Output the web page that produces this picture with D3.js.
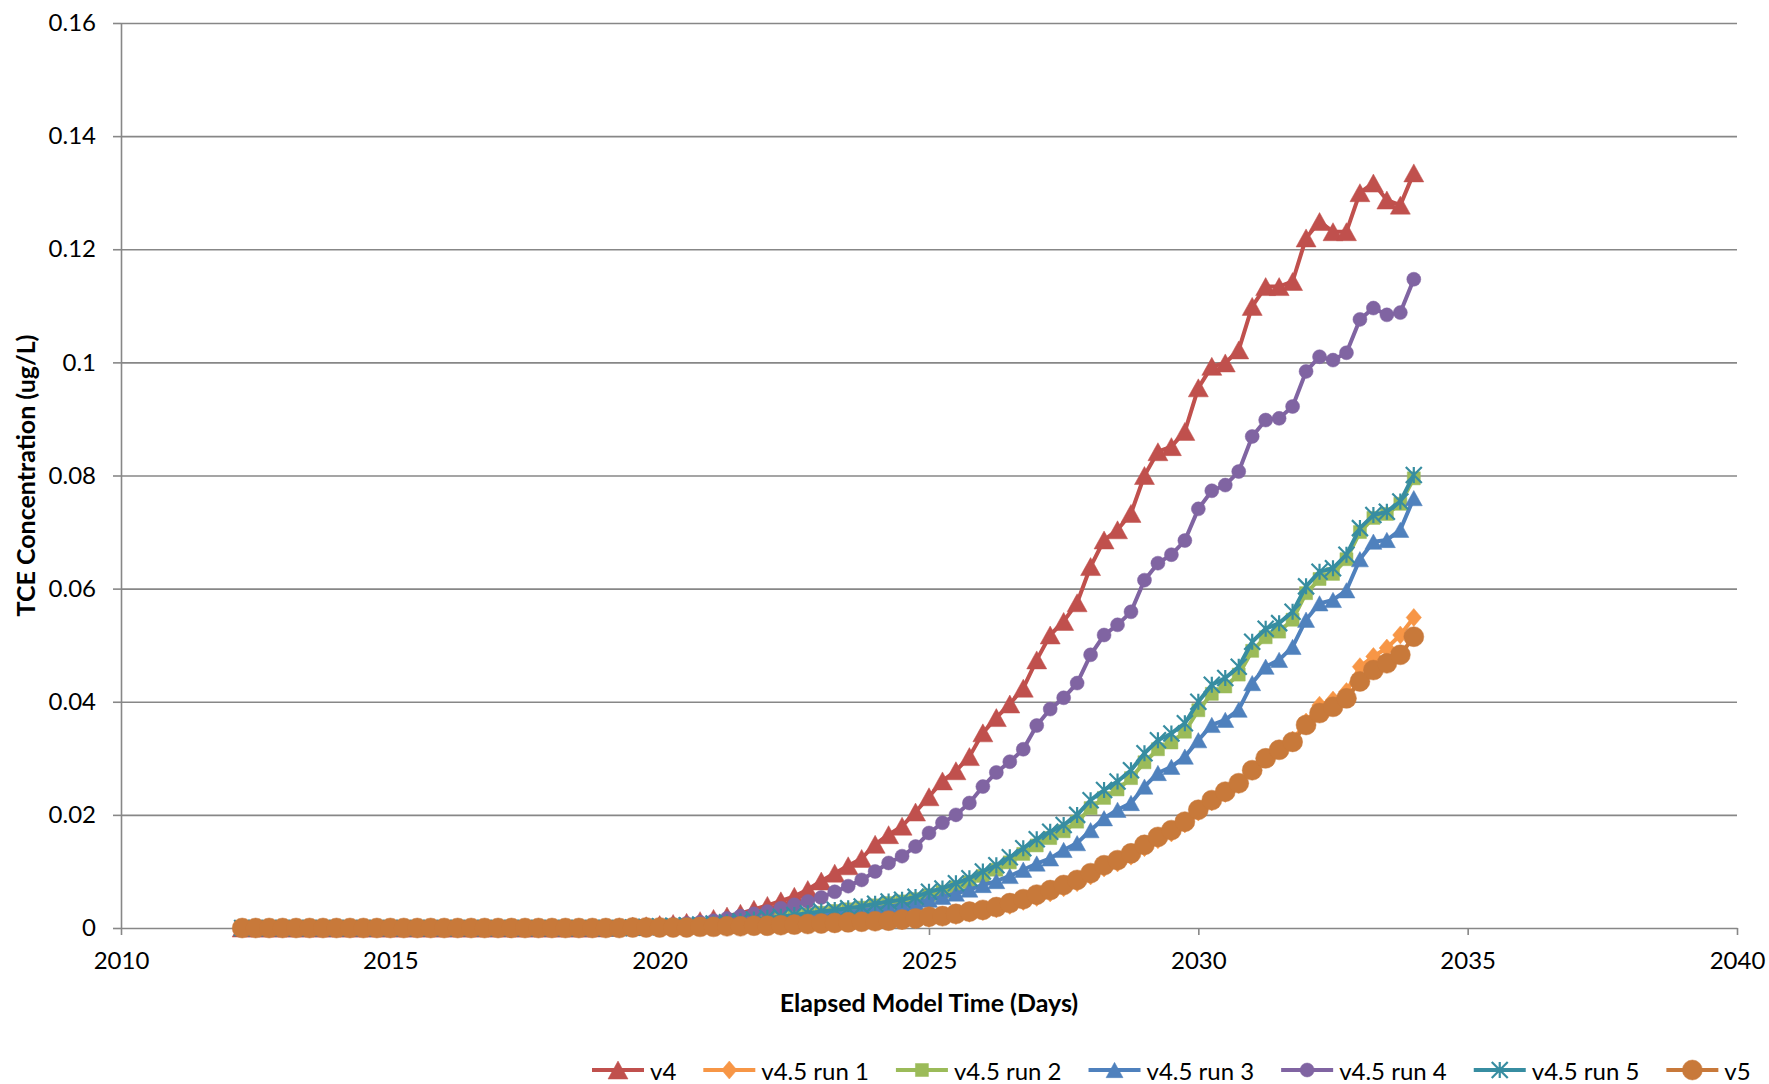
<!DOCTYPE html>
<html>
<head>
<meta charset="utf-8">
<script src="https://cdn.jsdelivr.net/npm/d3@7"></script>
<style>
  body { margin: 0; background: #fff; }
  svg { display: block; font-family: Lato, "Open Sans", sans-serif; }
</style>
</head>
<body>
<svg id="chart"></svg>
<script>
// quarterly model output times (years)
const times = [
  2012.25, 2012.5, 2012.75,
  2013, 2013.25, 2013.5, 2013.75,
  2014, 2014.25, 2014.5, 2014.75,
  2015, 2015.25, 2015.5, 2015.75,
  2016, 2016.25, 2016.5, 2016.75,
  2017, 2017.25, 2017.5, 2017.75,
  2018, 2018.25, 2018.5, 2018.75,
  2019, 2019.25, 2019.5, 2019.75,
  2020, 2020.25, 2020.5, 2020.75,
  2021, 2021.25, 2021.5, 2021.75,
  2022, 2022.25, 2022.5, 2022.75,
  2023, 2023.25, 2023.5, 2023.75,
  2024, 2024.25, 2024.5, 2024.75,
  2025, 2025.25, 2025.5, 2025.75,
  2026, 2026.25, 2026.5, 2026.75,
  2027, 2027.25, 2027.5, 2027.75,
  2028, 2028.25, 2028.5, 2028.75,
  2029, 2029.25, 2029.5, 2029.75,
  2030, 2030.25, 2030.5, 2030.75,
  2031, 2031.25, 2031.5, 2031.75,
  2032, 2032.25, 2032.5, 2032.75,
  2033, 2033.25, 2033.5, 2033.75,
  2034
]

const v4 = [
  0, 0, 0,
  0, 0, 0, 0,
  0, 0, 0, 0,
  0, 0, 0, 0,
  0, 0, 0, 0,
  0, 0, 0, 0,
  0, 0, 0, 0,
  0.0001, 0.0002, 0.0003, 0.0004,
  0.0006, 0.0008, 0.0010, 0.0013,
  0.0017, 0.0021, 0.0026, 0.0033,
  0.0040, 0.0048, 0.0056, 0.0068,
  0.0083, 0.0097, 0.0110, 0.0123,
  0.0148, 0.0165, 0.0180, 0.0205,
  0.0232, 0.0260, 0.0278, 0.0303,
  0.0345, 0.0372, 0.0396, 0.0424,
  0.0474, 0.0518, 0.0542, 0.0575,
  0.0639, 0.0686, 0.0704, 0.0733,
  0.0800, 0.0842, 0.0851, 0.0878,
  0.0955, 0.0993, 0.0999, 0.1022,
  0.1099, 0.1134, 0.1134, 0.1143,
  0.1220, 0.1249, 0.1231, 0.1231,
  0.1300, 0.1317, 0.1287, 0.1278,
  0.1335
]

const run1 = [
  0, 0, 0,
  0, 0, 0, 0,
  0, 0, 0, 0,
  0, 0, 0, 0,
  0, 0, 0, 0,
  0, 0, 0, 0,
  0, 0, 0, 0,
  0, 0, 0.0001, 0.0001,
  0.0001, 0.0001, 0.0001, 0.0002,
  0.0002, 0.0003, 0.0003, 0.0004,
  0.0004, 0.0005, 0.0005, 0.0006,
  0.0007, 0.0008, 0.0009, 0.0010,
  0.0011, 0.0012, 0.0013, 0.0015,
  0.0017, 0.0019, 0.0022, 0.0026,
  0.0029, 0.0034, 0.0040, 0.0047,
  0.0054, 0.0062, 0.0071, 0.0080,
  0.0092, 0.0106, 0.0115, 0.0127,
  0.0142, 0.0156, 0.0168, 0.0184,
  0.0205, 0.0223, 0.0238, 0.0254,
  0.0278, 0.0300, 0.0316, 0.0332,
  0.0364, 0.0394, 0.0403, 0.0418,
  0.0462, 0.0480, 0.0495, 0.0518,
  0.0549
]

const run2 = [
  0, 0, 0,
  0, 0, 0, 0,
  0, 0, 0, 0,
  0, 0, 0, 0,
  0, 0, 0, 0,
  0, 0, 0, 0,
  0, 0, 0, 0,
  0, 0, 0.0001, 0.0002,
  0.0003, 0.0004, 0.0004, 0.0005,
  0.0007, 0.0009, 0.0011, 0.0013,
  0.0016, 0.0018, 0.0021, 0.0024,
  0.0027, 0.0030, 0.0033, 0.0036,
  0.0040, 0.0044, 0.0047, 0.0051,
  0.0058, 0.0064, 0.0072, 0.0081,
  0.0092, 0.0103, 0.0116, 0.0131,
  0.0146, 0.0159, 0.0171, 0.0188,
  0.0212, 0.0230, 0.0245, 0.0265,
  0.0293, 0.0316, 0.0328, 0.0347,
  0.0385, 0.0414, 0.0427, 0.0448,
  0.0490, 0.0514, 0.0524, 0.0545,
  0.0592, 0.0617, 0.0626, 0.0652,
  0.0700, 0.0725, 0.0732, 0.0750,
  0.0795
]

const run3 = [
  0, 0, 0,
  0, 0, 0, 0,
  0, 0, 0, 0,
  0, 0, 0, 0,
  0, 0, 0, 0,
  0, 0, 0, 0,
  0, 0, 0, 0,
  0, 0, 0, 0.0001,
  0.0002, 0.0003, 0.0004, 0.0005,
  0.0006, 0.0008, 0.0010, 0.0012,
  0.0014, 0.0016, 0.0018, 0.0021,
  0.0023, 0.0026, 0.0028, 0.0031,
  0.0035, 0.0038, 0.0041, 0.0045,
  0.0050, 0.0055, 0.0061, 0.0068,
  0.0076, 0.0083, 0.0092, 0.0103,
  0.0114, 0.0123, 0.0138, 0.0150,
  0.0173, 0.0194, 0.0209, 0.0221,
  0.0250, 0.0274, 0.0285, 0.0303,
  0.0332, 0.0359, 0.0368, 0.0386,
  0.0433, 0.0462, 0.0474, 0.0497,
  0.0545, 0.0574, 0.0580, 0.0597,
  0.0652, 0.0683, 0.0686, 0.0704,
  0.0760
]

const run4 = [
  0, 0, 0,
  0, 0, 0, 0,
  0, 0, 0, 0,
  0, 0, 0, 0,
  0, 0, 0, 0,
  0, 0, 0, 0,
  0, 0, 0, 0,
  0, 0.0001, 0.0002, 0.0003,
  0.0004, 0.0006, 0.0008, 0.0010,
  0.0013, 0.0017, 0.0021, 0.0025,
  0.0029, 0.0035, 0.0041, 0.0047,
  0.0054, 0.0064, 0.0074, 0.0085,
  0.0100, 0.0115, 0.0127, 0.0144,
  0.0168, 0.0186, 0.0200, 0.0221,
  0.0250, 0.0275, 0.0294, 0.0316,
  0.0358, 0.0387, 0.0407, 0.0433,
  0.0483, 0.0518, 0.0536, 0.0559,
  0.0615, 0.0645, 0.0660, 0.0685,
  0.0741, 0.0773, 0.0783, 0.0807,
  0.0869, 0.0898, 0.0901, 0.0922,
  0.0984, 0.1010, 0.1004, 0.1017,
  0.1076, 0.1096, 0.1084, 0.1088,
  0.1147
]

const run5 = [
  0, 0, 0,
  0, 0, 0, 0,
  0, 0, 0, 0,
  0, 0, 0, 0,
  0, 0, 0, 0,
  0, 0, 0, 0,
  0, 0, 0, 0,
  0, 0, 0.0001, 0.0002,
  0.0003, 0.0004, 0.0005, 0.0006,
  0.0008, 0.0010, 0.0012, 0.0015,
  0.0018, 0.0020, 0.0023, 0.0026,
  0.0029, 0.0032, 0.0035, 0.0038,
  0.0043, 0.0047, 0.0050, 0.0055,
  0.0064, 0.0070, 0.0079, 0.0088,
  0.0100, 0.0111, 0.0125, 0.0141,
  0.0157, 0.0170, 0.0182, 0.0200,
  0.0226, 0.0244, 0.0259, 0.0279,
  0.0309, 0.0332, 0.0344, 0.0362,
  0.0400, 0.0430, 0.0442, 0.0462,
  0.0506, 0.0529, 0.0539, 0.0559,
  0.0604, 0.0630, 0.0636, 0.0660,
  0.0707, 0.0730, 0.0736, 0.0754,
  0.0801
]

const v5 = [
  0, 0, 0,
  0, 0, 0, 0,
  0, 0, 0, 0,
  0, 0, 0, 0,
  0, 0, 0, 0,
  0, 0, 0, 0,
  0, 0, 0, 0,
  0, 0, 0.0001, 0.0001,
  0.0001, 0.0001, 0.0001, 0.0002,
  0.0002, 0.0003, 0.0003, 0.0004,
  0.0004, 0.0005, 0.0006, 0.0007,
  0.0008, 0.0009, 0.0010, 0.0011,
  0.0012, 0.0013, 0.0015, 0.0017,
  0.0020, 0.0021, 0.0025, 0.0029,
  0.0032, 0.0037, 0.0044, 0.0051,
  0.0059, 0.0067, 0.0076, 0.0085,
  0.0097, 0.0111, 0.0120, 0.0132,
  0.0147, 0.0161, 0.0173, 0.0188,
  0.0209, 0.0226, 0.0241, 0.0256,
  0.0279, 0.0300, 0.0315, 0.0329,
  0.0359, 0.0380, 0.0391, 0.0406,
  0.0436, 0.0456, 0.0468, 0.0483,
  0.0515
]

const seriesNames = ['v4', 'v4.5 run 1', 'v4.5 run 2', 'v4.5 run 3', 'v4.5 run 4', 'v4.5 run 5', 'v5']
const seriesValues = [v4, run1, run2, run3, run4, run5, v5]

const xTicks = [2010, 2015, 2020, 2025, 2030, 2035, 2040]
const yTicks = [0, 0.02, 0.04, 0.06, 0.08, 0.1, 0.12, 0.14, 0.16]
const yTickLabels = ['0', '0.02', '0.04', '0.06', '0.08', '0.1', '0.12', '0.14', '0.16']

const xTitle = 'Elapsed Model Time (Days)'
const yTitle = 'TCE Concentration (ug/L)'

// styling
const svgw = 1769
const svgh = 1084
const plotL = 121, plotR = 1737, plotT = 23, plotB = 928
const gridColor = '#878787'
const tickFont = 24
const titleFont = 25
const legendFont = 24
const styles = [
  { color: '#C0504D', shape: 'triangle', size: 20 },
  { color: '#F79646', shape: 'diamond', size: 18 },
  { color: '#9BBB59', shape: 'square', size: 13 },
  { color: '#4F81BD', shape: 'triangle', size: 17 },
  { color: '#8064A2', shape: 'circle', size: 14 },
  { color: '#378DA1', shape: 'star', size: 16 },
  { color: '#C8793A', shape: 'circle', size: 20 }
]

function markerPath(shape, s) {
  const h = s / 2
  if (shape === 'triangle') return `M0,${-h * 0.9}L${h},${h * 0.9}L${-h},${h * 0.9}Z`
  if (shape === 'diamond') return `M0,${-h}L${h * 0.85},0L0,${h}L${-h * 0.85},0Z`
  if (shape === 'square') return `M${-h},${-h}H${h}V${h}H${-h}Z`
  if (shape === 'star') return `M${-h},${-h}L${h},${h}M${h},${-h}L${-h},${h}M0,${-h}V${h}`
  return d3.symbol(d3.symbolCircle, Math.PI * h * h)()
}

function drawMarker(sel, st) {
  sel.append('path')
    .attr('d', markerPath(st.shape, st.size))
    .attr('fill', st.shape === 'star' ? 'none' : st.color)
    .attr('stroke', st.color)
    .attr('stroke-width', st.shape === 'star' ? 2.2 : 0.5)
}

const svg = d3.select('#chart')
  .attr('width', svgw)
  .attr('height', svgh)

svg.append('rect').attr('width', svgw).attr('height', svgh).attr('fill', '#fff')

const xScale = d3.scaleLinear().domain([2010, 2040]).range([plotL, plotR])
const yScale = d3.scaleLinear().domain([0, 0.16]).range([plotB, plotT])

// gridlines
svg.append('g')
  .attr('transform', `translate(${plotL},0)`)
  .call(d3.axisLeft(yScale).tickValues(yTicks.slice(1)).tickSize(-(plotR - plotL)).tickFormat(''))
  .call(g => g.select('.domain').remove())
  .call(g => g.selectAll('line').attr('stroke', gridColor).attr('stroke-width', 1.6))

// y axis
svg.append('g')
  .attr('id', 'y-axis')
  .attr('transform', `translate(${plotL},0)`)
  .call(d3.axisLeft(yScale).tickValues(yTicks).tickSize(8).tickSizeOuter(0).tickPadding(17)
    .tickFormat((d, i) => yTickLabels[i]))
  .call(g => g.select('.domain').attr('stroke', gridColor).attr('stroke-width', 1.6))
  .call(g => g.selectAll('line').attr('stroke', gridColor).attr('stroke-width', 1.6))
  .call(g => g.selectAll('text').attr('font-size', tickFont).attr('fill', '#000'))
  .attr('font-family', null)

// x axis
svg.append('g')
  .attr('id', 'x-axis')
  .attr('transform', `translate(0,${plotB})`)
  .call(d3.axisBottom(xScale).tickValues(xTicks).tickSize(7).tickSizeOuter(0).tickPadding(17)
    .tickFormat(d3.format('d')))
  .call(g => g.select('.domain').attr('stroke', gridColor).attr('stroke-width', 1.6))
  .call(g => g.selectAll('line').attr('stroke', gridColor).attr('stroke-width', 1.6))
  .call(g => g.selectAll('text').attr('font-size', tickFont).attr('fill', '#000'))
  .attr('font-family', null)

// axis titles
svg.append('text')
  .attr('x', (plotL + plotR) / 2)
  .attr('y', 1002)
  .attr('text-anchor', 'middle')
  .attr('dominant-baseline', 'central')
  .attr('font-size', titleFont)
  .attr('font-weight', 'bold')
  .text(xTitle)

svg.append('text')
  .attr('transform', `translate(25,${(plotT + plotB) / 2}) rotate(-90)`)
  .attr('text-anchor', 'middle')
  .attr('dominant-baseline', 'central')
  .attr('font-size', titleFont)
  .attr('font-weight', 'bold')
  .text(yTitle)

// series
const line = d3.line()
  .x(d => xScale(d[0]))
  .y(d => yScale(d[1]))

seriesValues.forEach((vals, si) => {
  const st = styles[si]
  const pts = times.map((t, i) => [t, vals[i]])
  const g = svg.append('g').attr('class', 'series')
  g.append('path')
    .datum(pts)
    .attr('d', line)
    .attr('fill', 'none')
    .attr('stroke', st.color)
    .attr('stroke-width', 4)
    .attr('stroke-linejoin', 'round')
  g.selectAll('g.mk')
    .data(pts)
    .enter()
    .append('g')
    .attr('class', 'mk')
    .attr('transform', d => `translate(${xScale(d[0])},${yScale(d[1])})`)
    .each(function () { drawMarker(d3.select(this), st) })
})

// legend
const legend = svg.append('g').attr('transform', 'translate(592,1070)')
let lx = 0
seriesNames.forEach((name, i) => {
  const st = styles[i]
  const item = legend.append('g').attr('transform', `translate(${lx},0)`)
  item.append('line')
    .attr('x1', 0).attr('x2', 52)
    .attr('stroke', st.color).attr('stroke-width', 4)
  const m = item.append('g').attr('transform', 'translate(26,0)')
  drawMarker(m, st)
  const t = item.append('text')
    .attr('x', 58)
    .attr('dominant-baseline', 'central')
    .attr('font-size', legendFont)
    .text(name)
  lx += 58 + t.node().getComputedTextLength() + 27
})
</script>
</body>
</html>
